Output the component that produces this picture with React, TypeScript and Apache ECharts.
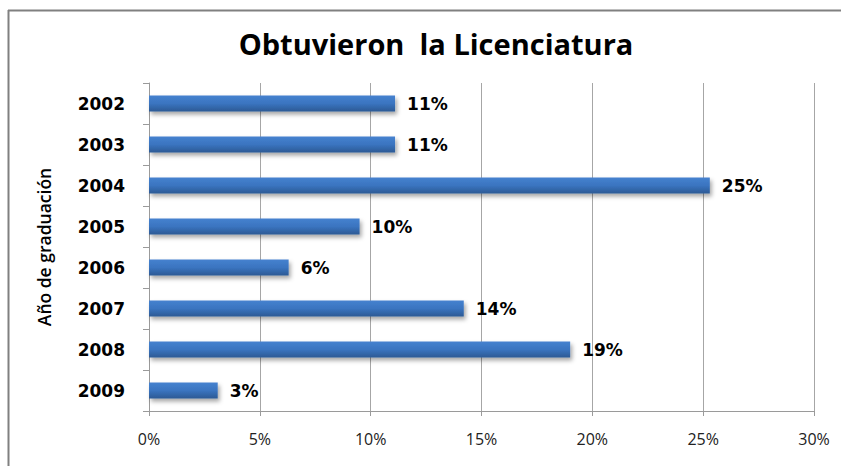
import React, { useEffect, useRef } from "react";
import * as echarts from "echarts";

const categories = ["2002", "2003", "2004", "2005", "2006", "2007", "2008", "2009"];
const values = [11.1, 11.1, 25.3, 9.5, 6.3, 14.2, 19.0, 3.1];
const titleText = "Obtuvieron  la Licenciatura";
const yAxisName = "Año de graduación";

export default function App() {
  const ref = useRef<HTMLDivElement>(null);
  useEffect(() => {
    if (!ref.current) return;
    const chart = echarts.init(ref.current, undefined, { renderer: "svg" });
    chart.setOption({
      animation: false,
      backgroundColor: "#ffffff",
      title: {
        text: titleText,
        left: 431,
        textAlign: "center",
        top: 24,
        textStyle: { fontFamily: "Open Sans", fontWeight: "bold", fontSize: 29, color: "#000" },
      },
      graphic: [
        {
          type: "line",
          shape: { x1: 8, y1: 10.5, x2: 841, y2: 10.5 },
          style: { stroke: "#808080", lineWidth: 2 },
          silent: true,
        },
        {
          type: "line",
          shape: { x1: 8.5, y1: 10, x2: 8.5, y2: 466 },
          style: { stroke: "#808080", lineWidth: 2 },
          silent: true,
        },
      ],
      grid: { left: 149, right: 27, top: 83, bottom: 55 },
      xAxis: {
        type: "value",
        min: 0,
        max: 30,
        interval: 5,
        axisLine: { show: true, lineStyle: { color: "#9a9a9a" } },
        axisTick: { show: true, length: 5, lineStyle: { color: "#9a9a9a" } },
        splitLine: { show: true, lineStyle: { color: "#a6a6a6" } },
        axisLabel: {
          formatter: (v: number) => v + "%",
          fontFamily: "Open Sans",
          fontSize: 16,
          color: "#222",
          margin: 20,
        },
      },
      yAxis: {
        type: "category",
        data: categories,
        inverse: true,
        name: yAxisName,
        nameLocation: "middle",
        nameGap: 96,
        nameTextStyle: { fontFamily: "Open Sans", fontSize: 17.5, fontWeight: 600, color: "#000" },
        axisLine: { show: true, lineStyle: { color: "#9a9a9a" } },
        axisTick: { show: true, length: 6, inside: false, lineStyle: { color: "#9a9a9a" } },
        axisLabel: {
          fontFamily: "DejaVu Sans",
          fontWeight: "bold",
          fontSize: 17,
          color: "#000",
          margin: 24,
        },
      },
      series: [
        {
          type: "bar",
          data: values,
          barWidth: 16,
          itemStyle: {
            color: new echarts.graphic.LinearGradient(0, 0, 0, 1, [
              { offset: 0, color: "#4682cf" },
              { offset: 0.5, color: "#3a74c0" },
              { offset: 1, color: "#2c5a94" },
            ]),
            shadowColor: "rgba(0,0,0,0.35)",
            shadowBlur: 4,
            shadowOffsetX: 2,
            shadowOffsetY: 3,
          },
          label: {
            show: true,
            position: "right",
            distance: 12,
            formatter: (p: any) => Math.round(p.value) + "%",
            fontFamily: "DejaVu Sans",
            fontWeight: "bold",
            fontSize: 17,
            color: "#000",
          },
        },
      ],
    });
    return () => chart.dispose();
  }, []);
  return (
    <div
      ref={ref}
      style={{ position: "fixed", left: 0, top: 0, width: 841, height: 466 }}
    />
  );
}
